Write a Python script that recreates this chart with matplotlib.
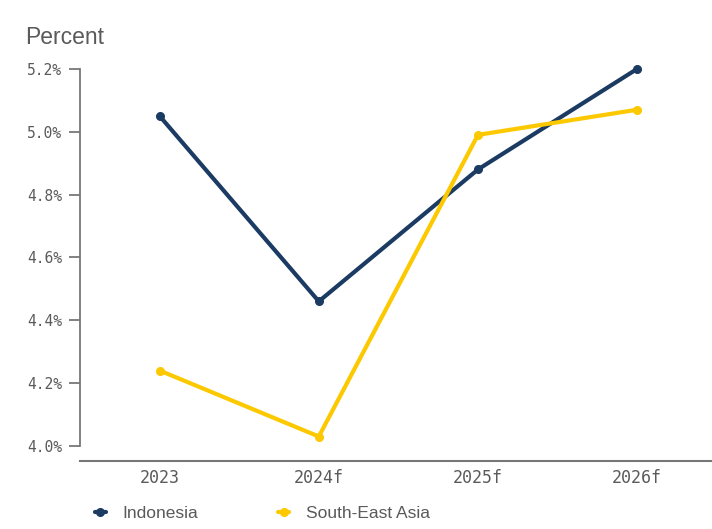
import matplotlib
matplotlib.use("Agg")
import matplotlib.pyplot as plt
from matplotlib.ticker import FuncFormatter

years = ["2023", "2024f", "2025f", "2026f"]
indonesia = [5.05, 4.46, 4.88, 5.20]
sea = [4.24, 4.03, 4.99, 5.07]
y_ticks = [4.0, 4.2, 4.4, 4.6, 4.8, 5.0, 5.2]

navy = "#1c3b63"
yellow = "#fcc900"
grey = "#5a5a5a"

fig = plt.figure(figsize=(7.12, 5.29), dpi=100)
ax = fig.add_axes([0.1124, 0.1285, 0.8876, 0.771])

x = list(range(len(years)))
ax.plot(x, indonesia, color=navy, lw=3, marker="o", ms=5.5, label="Indonesia",
        solid_capstyle="round")
ax.plot(x, sea, color=yellow, lw=3, marker="o", ms=5.5, label="South-East Asia",
        solid_capstyle="round")

ax.set_xlim(-0.5, 3.47)
ax.set_ylim(3.952, 5.25)
ax.set_xticks(x)
ax.set_xticklabels(years)
ax.set_yticks(y_ticks)
ax.yaxis.set_major_formatter(FuncFormatter(lambda v, p: f"{v:.1f}%"))

for s in ["top", "right"]:
    ax.spines[s].set_visible(False)
ax.spines["left"].set_bounds(4.0, 5.2)
ax.spines["left"].set_color("#777777")
ax.spines["bottom"].set_color("#777777")
ax.spines["left"].set_linewidth(1.3)
ax.spines["bottom"].set_linewidth(1.5)

ax.tick_params(axis="y", length=8, width=1.3, color="#777777", pad=5,
               labelsize=10.5, labelcolor=grey)
ax.tick_params(axis="x", length=0, pad=6, labelsize=12, labelcolor=grey)
for lab in ax.get_xticklabels() + ax.get_yticklabels():
    lab.set_family("DejaVu Sans Mono")

fig.text(0.035, 0.93, "Percent", fontsize=16.5, color=grey,
         family="Liberation Sans", va="center", ha="left")

leg = fig.legend(loc="lower left", bbox_to_anchor=(0.111, -0.014), ncol=2,
                 frameon=False, prop={"family": "Liberation Sans", "size": 12.5},
                 handlelength=0.65, columnspacing=4.6, handletextpad=0.95,
                 labelcolor=grey)

fig.savefig("out.png", dpi=100)
